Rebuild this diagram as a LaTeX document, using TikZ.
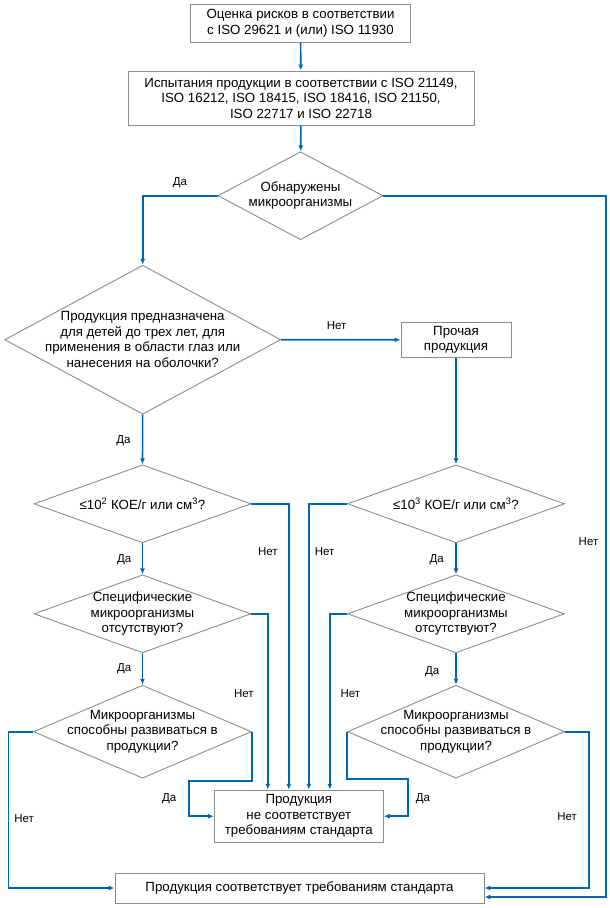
\documentclass[tikz,border=0pt]{standalone}
\usepackage{fontspec}
\setmainfont{Liberation Sans}
\usetikzlibrary{shapes.geometric,arrows.meta}
\definecolor{flowblue}{RGB}{0,102,179}
\definecolor{edgegray}{RGB}{140,140,140}
\tikzset{
	box/.style={draw=edgegray,line width=0.9pt,rectangle,align=center,inner sep=0},
	decision/.style={draw=edgegray,line width=0.9pt,diamond,align=center,inner sep=-45pt},
	flow/.style={draw=flowblue,line width=1.6pt,-{Latex[length=6pt,width=5pt]}},
	answer/.style={inner sep=0,font=\fontsize{11.5}{13}\selectfont},
}
\begin{document}
\begin{tikzpicture}[x=1pt,y=-1pt,font=\fontsize{13.3}{15.5}\selectfont]
	\useasboundingbox (0,0) rectangle (610,908);
	\node[box,minimum width=220pt,minimum height=38pt] (risk) at (300.5,23) {Оценка рисков в соответствии\\с ISO 29621 и (или) ISO 11930};
	\node[box,minimum width=346pt,minimum height=54pt] (test) at (301,98) {Испытания продукции в соответствии с ISO 21149,\\ISO 16212, ISO 18415, ISO 18416, ISO 21150,\\ISO 22717 и ISO 22718};
	\node[decision,minimum width=165pt,minimum height=88pt] (found) at (300.5,195.7) {Обнаружены\\микроорганизмы};
	\node[decision,minimum width=276pt,minimum height=149pt] (intended) at (142.7,339.7) {Продукция предназначена\\для детей до трех лет, для\\применения в области глаз или\\нанесения на оболочки?};
	\node[box,minimum width=110pt,minimum height=35pt] (other) at (456,339.8) {Прочая\\продукция};
	\node[decision,minimum width=217pt,minimum height=78pt] (limA) at (142.5,503.8) {≤10\textsuperscript{2} КОЕ/г или см\textsuperscript{3}?};
	\node[decision,minimum width=217pt,minimum height=78pt] (limB) at (456,503.8) {≤10\textsuperscript{3} КОЕ/г или см\textsuperscript{3}?};
	\node[decision,minimum width=217pt,minimum height=78pt] (specA) at (142.5,613.8) {Специфические\\микроорганизмы\\отсутствуют?};
	\node[decision,minimum width=217pt,minimum height=78pt] (specB) at (456,613.8) {Специфические\\микроорганизмы\\отсутствуют?};
	\node[decision,minimum width=218pt,minimum height=93pt] (growA) at (142.5,731.7) {Микроорганизмы\\способны развиваться в\\продукции?};
	\node[decision,minimum width=217pt,minimum height=93pt] (growB) at (456,731.7) {Микроорганизмы\\способны развиваться в\\продукции?};
	\node[box,minimum width=169pt,minimum height=52pt] (fail) at (298.8,816.2) {Продукция\\не соответствует\\требованиям стандарта};
	\node[box,minimum width=369pt,minimum height=30pt] (pass) at (299.5,888) {Продукция соответствует требованиям стандарта};

	\draw[flow] (risk) -- (test);
	\draw[flow] (test) -- (found);
	\draw[flow] (found.west) -| (intended.north);
	\draw[flow] (found.east) -| ([xshift=121.7pt,yshift=-9pt]pass.east) -- ([yshift=-9pt]pass.east);
	\draw[flow] (intended.east) -- (other.west);
	\draw[flow] (intended.south) -- (limA.north);
	\draw[flow] (other.south) -- (limB.north);
	\draw[flow] (limA.south) -- (specA.north);
	\draw[flow] (specA.south) -- (growA.north);
	\draw[flow] (limB.south) -- (specB.north);
	\draw[flow] (specB.south) -- (growB.north);
	\draw[flow] (limA.east) -| ([xshift=-10pt]fail.north);
	\draw[flow] (specA.east) -| ([xshift=-31pt]fail.north);
	\draw[flow] (limB.west) -| ([xshift=10pt]fail.north);
	\draw[flow] (specB.west) -| ([xshift=31pt]fail.north);
	\draw[flow] (growA.east) -- ++(0,49) -| ([xshift=-25pt]fail.west) -- (fail.west);
	\draw[flow] (growB.west) -- ++(0,47.3) -| ([xshift=24pt]fail.east) -- (fail.east);
	\draw[flow] (growA.west) -| ([xshift=-106pt]pass.west) -- (pass.west);
	\draw[flow] (growB.east) -| ([xshift=104.3pt]pass.east) -- (pass.east);

	\node[answer] (yes0) at (180,183) {Да};
	\node[answer] (no0) at (588.5,541.7) {Нет};
	\node[answer] (no1) at (336.7,325.8) {Нет};
	\node[answer] (yes1) at (123.4,440.8) {Да};
	\node[answer] (yes2) at (124.3,559.5) {Да};
	\node[answer] (yes3) at (124.3,668.3) {Да};
	\node[answer] (yes4) at (436.7,559.5) {Да};
	\node[answer] (yes5) at (432.2,672) {Да};
	\node[answer] (no2) at (267.8,551.7) {Нет};
	\node[answer] (no3) at (324.7,551.7) {Нет};
	\node[answer] (no4) at (243.8,694) {Нет};
	\node[answer] (no5) at (350.3,694) {Нет};
	\node[answer] (yes6) at (169.2,798.8) {Да};
	\node[answer] (yes7) at (423,798.8) {Да};
	\node[answer] (no6) at (24.2,818.3) {Нет};
	\node[answer] (no7) at (567.2,816.7) {Нет};
\end{tikzpicture}
\end{document}
